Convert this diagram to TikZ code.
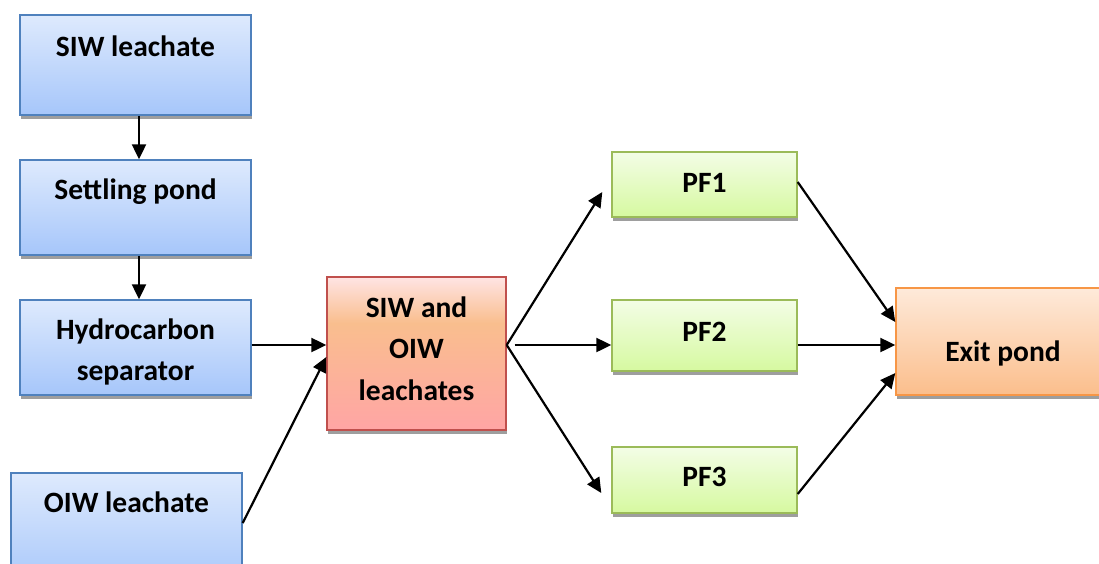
\documentclass[tikz,border=0pt]{standalone}
\usepackage{fontspec}
\setmainfont{Carlito}
\usetikzlibrary{arrows.meta,shadows}
\definecolor{blueline}{RGB}{79,129,189}
\definecolor{bluetop}{RGB}{222,234,253}
\definecolor{bluebot}{RGB}{166,198,250}
\definecolor{redline}{RGB}{192,80,77}
\definecolor{redtop}{RGB}{255,228,228}
\definecolor{redmid}{RGB}{249,190,142}
\definecolor{redbot}{RGB}{255,165,165}
\definecolor{greenline}{RGB}{155,187,89}
\definecolor{greentop}{RGB}{243,253,230}
\definecolor{greenbot}{RGB}{214,249,160}
\definecolor{orangeline}{RGB}{247,150,70}
\definecolor{orangetop}{RGB}{254,234,218}
\definecolor{orangebot}{RGB}{251,190,140}
\pgfdeclareverticalshading{redshade}{100bp}{color(0bp)=(redbot); color(25bp)=(redbot); color(60bp)=(redmid); color(75bp)=(redtop); color(100bp)=(redtop)}
\tikzset{
  boxbase/.style={rectangle, line width=1.4pt, inner sep=0pt,
    drop shadow={shadow xshift=1pt, shadow yshift=-4pt, fill=black!38, opacity=1}},
  bluebox/.style={boxbase, draw=blueline, top color=bluetop, bottom color=bluebot},
  redbox/.style={boxbase, draw=redline, shading=redshade},
  greenbox/.style={boxbase, draw=greenline, top color=greentop, bottom color=greenbot},
  orangebox/.style={boxbase, draw=orangeline, top color=orangetop, bottom color=orangebot},
  lbl/.style={font=\fontsize{29.5}{41.5}\selectfont\bfseries, align=center, inner sep=0pt},
  arr/.style={line width=2.2pt, -{Triangle[length=15pt,width=14pt]}}
}
\begin{document}
\begin{tikzpicture}[x=1pt,y=-1pt]
\useasboundingbox (0,0) rectangle (1099,563);
\clip (0,0) rectangle (1099,563);
% boxes
\node[bluebox, minimum width=231pt, minimum height=100pt] (siw) at (135.5,65) {};
\node[bluebox, minimum width=231pt, minimum height=95pt] (settle) at (135.5,207.5) {};
\node[bluebox, minimum width=231pt, minimum height=95pt] (hydro) at (135.5,347.5) {};
\node[bluebox, minimum width=231pt, minimum height=117pt] (oiw) at (126.5,531.5) {};
\node[redbox, minimum width=179pt, minimum height=153pt] (mix) at (416.5,353.5) {};
\node[greenbox, minimum width=185pt, minimum height=65pt] (pf1) at (704.5,184.5) {};
\node[greenbox, minimum width=185pt, minimum height=71pt] (pf2) at (704.5,335.5) {};
\node[greenbox, minimum width=185pt, minimum height=66pt] (pf3) at (704.5,480) {};
\node[orangebox, minimum width=214pt, minimum height=107pt] (exitp) at (1003,341.5) {};
% labels
\node[lbl] (tsiw) at (135.5,46) {SIW leachate};
\node[lbl] (tsettle) at (135.5,192) {Settling pond};
\node[lbl] (thydro) at (135.5,352) {Hydrocarbon\\separator};
\node[lbl] (toiw) at (126.5,502) {OIW leachate};
\node[lbl] (tmix) at (416.5,348.5) {SIW and\\OIW\\leachates};
\node[lbl] (tpf1) at (704.5,183) {PF1};
\node[lbl] (tpf2) at (704.5,332) {PF2};
\node[lbl] (tpf3) at (704.5,477) {PF3};
\node[lbl] (texit) at (1003,353) {Exit pond};
% connectors
\draw[arr] ([xshift=3.5pt]siw.south) -- ([xshift=3.5pt]settle.north);
\draw[arr] ([xshift=3.5pt]settle.south) -- ([xshift=3.5pt]hydro.north);
\draw[arr] ([yshift=2.5pt]hydro.east) -- ([yshift=2.5pt]hydro.east -| mix.west);
\draw[arr] ([yshift=8.5pt]oiw.east) -- ([yshift=-3.5pt]mix.west);
\draw[arr] ([yshift=8.5pt]mix.east) -- ([xshift=-9pt,yshift=-7.5pt]pf1.west);
\draw[arr] ([xshift=8pt,yshift=8.5pt]mix.east) -- ([yshift=-9.5pt]pf2.west);
\draw[arr] ([yshift=8.5pt]mix.east) -- ([xshift=-10pt,yshift=-13pt]pf3.west);
\draw[arr] ([yshift=2.5pt]pf1.east) -- ([yshift=19.5pt]exitp.west);
\draw[arr] ([yshift=-9.5pt]pf2.east) -- ([yshift=-3.5pt]exitp.west);
\draw[arr] ([yshift=-14pt]pf3.east) -- ([yshift=-31.5pt]exitp.west);
\end{tikzpicture}
\end{document}
